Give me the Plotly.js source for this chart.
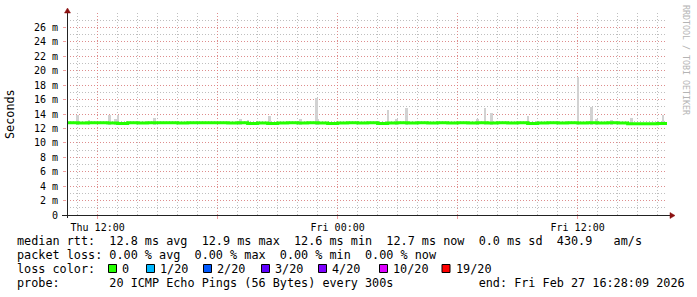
<!DOCTYPE html>
<html>
<head>
<meta charset="utf-8">
<script src="https://cdn.plot.ly/plotly-3.0.1.min.js"></script>
<style>
html,body{margin:0;padding:0;background:#fff;}
#chart{width:697px;height:297px;}
</style>
</head>
<body>
<div id="chart"></div>
<script>
// ---- data ----
const xStart = '2026-02-26 10:28:09';
const xEnd = '2026-02-27 16:28:09';

const medianTimes = [
 '2026-02-26 10:30','2026-02-26 11:00','2026-02-26 11:30','2026-02-26 12:00','2026-02-26 12:30','2026-02-26 13:00',
 '2026-02-26 13:30','2026-02-26 14:00','2026-02-26 14:30','2026-02-26 15:00','2026-02-26 15:30','2026-02-26 16:00',
 '2026-02-26 16:30','2026-02-26 17:00','2026-02-26 17:30','2026-02-26 18:00','2026-02-26 18:30','2026-02-26 19:00',
 '2026-02-26 19:30','2026-02-26 20:00','2026-02-26 20:30','2026-02-26 21:00','2026-02-26 21:30','2026-02-26 22:00',
 '2026-02-26 22:30','2026-02-26 23:00','2026-02-26 23:30',
 '2026-02-27 00:00','2026-02-27 00:30','2026-02-27 01:00','2026-02-27 01:30','2026-02-27 02:00','2026-02-27 02:30',
 '2026-02-27 03:00','2026-02-27 03:30','2026-02-27 04:00','2026-02-27 04:30','2026-02-27 05:00','2026-02-27 05:30',
 '2026-02-27 06:00','2026-02-27 06:30','2026-02-27 07:00','2026-02-27 07:30','2026-02-27 08:00','2026-02-27 08:30',
 '2026-02-27 09:00','2026-02-27 09:30','2026-02-27 10:00','2026-02-27 10:30','2026-02-27 11:00','2026-02-27 11:30',
 '2026-02-27 12:00','2026-02-27 12:30','2026-02-27 13:00','2026-02-27 13:30','2026-02-27 14:00','2026-02-27 14:30',
 '2026-02-27 15:00','2026-02-27 15:30','2026-02-27 16:00','2026-02-27 16:30'
];
const medianMs = [
 12.8,12.75,12.8,12.8,12.75,12.7,
 12.8,12.75,12.8,12.8,12.8,12.75,
 12.8,12.8,12.8,12.8,12.75,12.8,
 12.7,12.75,12.7,12.75,12.8,12.75,
 12.8,12.75,12.7,
 12.75,12.8,12.75,12.8,12.7,12.75,
 12.8,12.75,12.8,12.75,12.8,12.75,
 12.8,12.75,12.8,12.75,12.8,12.75,
 12.8,12.7,12.75,12.8,12.75,12.8,
 12.75,12.8,12.75,12.8,12.75,12.65,
 12.65,12.65,12.7,12.7
];

const spikeTimes = [
 '2026-02-26 11:00','2026-02-26 11:35','2026-02-26 12:36','2026-02-26 12:54','2026-02-26 13:02','2026-02-26 14:51',
 '2026-02-26 19:09','2026-02-26 19:32','2026-02-26 20:36','2026-02-26 22:09','2026-02-26 22:57','2026-02-26 23:02',
 '2026-02-27 02:32','2026-02-27 02:57','2026-02-27 03:27','2026-02-27 07:00','2026-02-27 07:22','2026-02-27 07:42',
 '2026-02-27 09:32','2026-02-27 12:02','2026-02-27 12:42','2026-02-27 12:57','2026-02-27 13:42','2026-02-27 14:42',
 '2026-02-27 16:17'
];
const spikeMaxMs = [
 13.9,13.1,13.9,13.3,13.8,13.4,
 13.3,13.1,13.75,13.3,16.2,13.3,
 14.6,13.3,14.9,13.3,14.9,14.1,
 13.75,19.1,15.0,13.3,13.2,13.4,
 13.9
];
const smokeBaseMs = 12.5;

const yTickVals = [0,2,4,6,8,10,12,14,16,18,20,22,24,26];
const yTickText = ['0','2 m','4 m','6 m','8 m','10 m','12 m','14 m','16 m','18 m','20 m','22 m','24 m','26 m'];
const xTickVals = ['2026-02-26 12:00','2026-02-26 18:00','2026-02-27 00:00','2026-02-27 06:00','2026-02-27 12:00'];
const xTickText = ['Thu 12:00','','Fri 00:00','','Fri 12:00'];

const lossLabels = ['0','1/20','2/20','3/20','4/20','10/20','19/20'];
const lossColors = ['#26ff00','#00b8ff','#0059ff','#5e00ff','#7e00ff','#dd00ff','#ff0000'];

const legendLine1 = 'median rtt:  12.8 ms avg  12.9 ms max  12.6 ms min  12.7 ms now  0.0 ms sd  430.9   am/s';
const legendLine2 = 'packet loss: 0.00 % avg  0.00 % max  0.00 % min  0.00 % now';
const legendLine3 = 'loss color:';
const legendLine4 = 'probe:       20 ICMP Echo Pings (56 Bytes) every 300s            end: Fri Feb 27 16:28:09 2026';

// ---- geometry helpers (pixel -> paper) ----
const L = 67, W = 600, B = 215, H = 202;
const X = px => (px - L) / W;
const Y = py => (B - py) / H;
const nb = s => s.replace(/ /g, '\u00a0');

const MONO = 'DejaVu Sans Mono';
const LEGFONT = {family: MONO, size: 11.8, color: '#000'};

const traces = [
  {
    type: 'bar',
    x: spikeTimes,
    y: spikeMaxMs.map(v => v - smokeBaseMs),
    base: spikeMaxMs.map(() => smokeBaseMs),
    width: 420000,
    marker: {color: '#d2d2d2', line: {width: 0}},
    hoverinfo: 'skip'
  },
  {
    type: 'scatter',
    mode: 'lines',
    x: medianTimes,
    y: medianMs,
    line: {color: lossColors[0], width: 3, shape: 'hv'},
    hoverinfo: 'skip'
  }
];

const redGrid = 'rgba(235,120,120,0.7)';
const grayGrid = 'rgba(175,175,175,0.8)';

const shapes = [
  {type: 'line', xref: 'paper', yref: 'paper', x0: X(67.5), x1: X(67.5), y0: Y(218), y1: Y(11), line: {color: '#222', width: 1}},
  {type: 'line', xref: 'paper', yref: 'paper', x0: X(62), x1: X(670), y0: Y(215.5), y1: Y(215.5), line: {color: '#222', width: 1}},
  {type: 'path', xref: 'paper', yref: 'paper',
   path: `M ${X(67.5)} ${Y(8)} L ${X(64.5)} ${Y(13)} L ${X(70.5)} ${Y(13)} Z`,
   fillcolor: '#8b1010', line: {color: '#8b1010', width: 0.5}},
  {type: 'path', xref: 'paper', yref: 'paper',
   path: `M ${X(675)} ${Y(215.5)} L ${X(670)} ${Y(212.5)} L ${X(670)} ${Y(218.5)} Z`,
   fillcolor: '#8b1010', line: {color: '#8b1010', width: 0.5}}
];

const annotations = [
  {xref: 'paper', yref: 'paper', x: X(15), y: Y(241), xanchor: 'left', yanchor: 'middle', showarrow: false, text: nb(legendLine1), font: LEGFONT},
  {xref: 'paper', yref: 'paper', x: X(15), y: Y(255), xanchor: 'left', yanchor: 'middle', showarrow: false, text: nb(legendLine2), font: LEGFONT},
  {xref: 'paper', yref: 'paper', x: X(15), y: Y(269), xanchor: 'left', yanchor: 'middle', showarrow: false, text: nb(legendLine3), font: LEGFONT},
  {xref: 'paper', yref: 'paper', x: X(15), y: Y(283), xanchor: 'left', yanchor: 'middle', showarrow: false, text: nb(legendLine4), font: LEGFONT},
  {xref: 'paper', yref: 'paper', x: X(10), y: Y(114), xanchor: 'center', yanchor: 'middle', showarrow: false, textangle: -90, text: 'Seconds', font: LEGFONT},
  {xref: 'paper', yref: 'paper', x: X(686), y: Y(60), xanchor: 'center', yanchor: 'middle', showarrow: false, textangle: 90, text: nb('RRDTOOL / TOBI OETIKER'), font: {family: MONO, size: 8.3, color: '#b4b4b4'}}
];

const boxX = [108, 146, 203, 261, 318, 379, 441.5];
lossLabels.forEach((lab, i) => {
  shapes.push({type: 'rect', xref: 'paper', yref: 'paper',
    x0: X(boxX[i] + 0.5), x1: X(boxX[i] + 8.5), y0: Y(264.5), y1: Y(272.5),
    fillcolor: lossColors[i], line: {color: '#000', width: 1}});
  annotations.push({xref: 'paper', yref: 'paper', x: X(boxX[i] + 12), y: Y(269), xanchor: 'left', yanchor: 'middle',
    showarrow: false, text: lab, font: LEGFONT});
});

const layout = {
  width: 697, height: 297,
  margin: {l: L, r: 697 - L - W, t: B - H, b: 297 - B, pad: 0},
  paper_bgcolor: '#ffffff',
  plot_bgcolor: '#ffffff',
  showlegend: false,
  font: {family: MONO, size: 10, color: '#000'},
  bargap: 0,
  xaxis: {
    type: 'date',
    range: [xStart, xEnd],
    tickmode: 'array', tickvals: xTickVals, ticktext: xTickText,
    showgrid: true, gridcolor: redGrid, griddash: '1px,2px', gridwidth: 1,
    ticks: 'outside', ticklen: 3, tickcolor: redGrid,
    tickfont: {family: MONO, size: 10, color: '#000'},
    ticklabelstandoff: 0,
    minor: {tickmode: 'linear', tick0: '2026-02-26 00:00', dtick: 3600000, showgrid: true, gridcolor: grayGrid, griddash: '1px,2px', gridwidth: 1},
    showline: false, zeroline: false, fixedrange: true
  },
  yaxis: {
    range: [0, 28],
    tickmode: 'array', tickvals: yTickVals, ticktext: yTickText,
    showgrid: true, gridcolor: redGrid, griddash: '1px,2px', gridwidth: 1,
    ticks: 'outside', ticklen: 3, tickcolor: redGrid,
    tickfont: {family: MONO, size: 10, color: '#000'},
    ticklabelstandoff: 3,
    minor: {tickmode: 'linear', tick0: 0, dtick: 1, showgrid: true, gridcolor: grayGrid, griddash: '1px,2px', gridwidth: 1},
    showline: false, zeroline: false, fixedrange: true
  },
  shapes: shapes,
  annotations: annotations
};

Plotly.newPlot('chart', traces, layout, {displayModeBar: false, staticPlot: true});
</script>
</body>
</html>
